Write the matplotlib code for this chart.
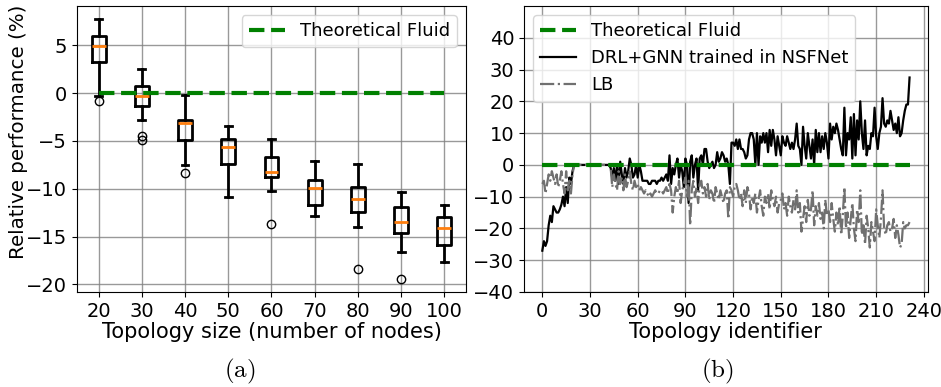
import matplotlib
matplotlib.use("Agg")
import matplotlib.pyplot as plt
import numpy as np

plt.rcParams['mathtext.fontset'] = 'cm'

# ---- Panel (a): box statistics per topology size ----
sizes = [20, 30, 40, 50, 60, 70, 80, 90, 100]
whislo = [-0.28, -2.79, -7.57, -10.82, -10.19, -12.88, -13.96, -16.61, -17.66]
q1 = [3.28, -1.33, -4.96, -7.43, -8.80, -11.66, -12.39, -14.59, -15.88]
med = [4.89, -0.35, -3.18, -5.69, -8.24, -9.95, -11.06, -13.51, -14.10]
q3 = [6.00, 0.77, -2.86, -4.82, -6.70, -9.07, -9.81, -11.94, -12.98]
whishi = [7.71, 2.55, -0.24, -3.49, -4.82, -7.12, -7.40, -10.37, -11.66]
fliers = [[-0.80], [-4.54, -4.96], [-8.38], [], [-13.65], [], [-18.39], [-19.44], []]

# ---- Panel (b): per-topology relative performance ----
drl = [
    -27, -24, -25.5, -24, -19, -16, -18, -13, -14, -15,
    -15, -14, -12.5, -10, -13, -7, -12, -4, -6, -2,
    0, 0, 0, 0, 0, 0, 0, 0, 0, 0,
    0, 0, 0, 0, 0, 0, 0, 0, 0, 0,
    0, 0, 0, -1, -4, -1, -5, 0, -6, 1,
    -3, -6, -1, -4, -2, 2, 0, -4, -3, 0,
    -4, 0, -2, -5, -5, -5, -5, -6, -6, -5,
    -5, -5, -6, -5, -5, -4, -5, -4, -3, -5,
    3, -6, -1, -3, 0, 2, -4, 0, -2, -7,
    2, 0, -12, 1, 3, -4, 0, 2, -8, 2,
    3, 0, 5, 5, 1, -1, 0, 1, -1, 0,
    4, 1, 2, 4, 3, 1, 2, 0, -6, 7,
    7, 6, 8, 5, 8, 5, 5, 4, 2, 3,
    8, 10, 10, 8, 0, 10, 0, 9, 7, 10,
    7, 10, 4, 11, 6, 11, 8, 3, 9, 6,
    3, 9, 7, 6, 9, 7, 5, 7, 5, 8,
    13, 6, 5, 0, 12, 6, 2, 10, 6, 2,
    8, 0, 11, 4, 10, 4, 9, 5, 10, 7,
    2, 13, 8, 12, 10, 13, 11, 8, 5, 3,
    18, 3, 10, 8, 15, 2, 16, 3, 14, 8,
    20, 10, 5, 14, 3, 6, 5, 10, 9, 18,
    9, 5, 10, 12, 21, 13, 12, 14, 13, 17,
    14, 11, 13, 10, 15, 9, 10, 14, 17, 19,
    19, 27.5,
]
lb = [
    -6, -5, -9, -6, -3, -5, -2, -4, -6, -3,
    -7, -5, -2, -6, -9, -2, -8, -5, -9, -3,
    0, 0, 0, 0, 0, 0, 0, 0, 0, 0,
    0, 0, 0, 0, 0, 0, 0, 0, 0, 0,
    0, 0, 0, -1, -7, -3, -6, -8, -2, -6,
    -4, -8, -3, -7, -5, -2, -6, -8, -5, -7,
    -6, -8, -7, -8, -9, -8, -9, -10, -9, -10,
    -9, -8, -9, -9, -8, -8, -9, -8, -7, -9,
    -6, -8, -15, -10, -7, -9, -5, -12, -8, -6,
    -4, -10, -5, -19, -8, -5, -10, -7, -12, -6,
    -5, -9, -7, -10, -6, -11, -8, -9, -12, -7,
    -9, -11, -8, -10, -12, -9, -8, -17, -7, -8,
    -10, -7, -6, -8, -11, -9, -13, -8, -12, -7,
    -9, -14, -10, -12, -9, -15, -11, -8, -13, -16,
    -10, -12, -9, -14, -8, -11, -13, -10, -15, -12,
    -11, -9, -14, -12, -16, -10, -13, -15, -11, -14,
    -8, -15, -12, -21, -17, -13, -18, -11, -16, -14,
    -8, -19, -13, -16, -12, -17, -15, -20, -11, -16,
    -14, -18, -12, -17, -21, -15, -19, -13, -22, -16,
    -7, -20, -15, -23, -17, -12, -20, -24, -14, -18,
    -8, -22, -19, -25, -16, -20, -26, -18, -21, -24,
    -14, -19, -23, -17, -8, -20, -22, -19, -18, -21,
    -20, -17, -23, -19, -22, -26, -25, -18, -20, -19,
    -19, -18,
]

fig = plt.figure(figsize=(9.41, 3.87), dpi=100)
ax1 = fig.add_axes([0.0818, 0.2455, 0.4134, 0.739])
ax2 = fig.add_axes([0.5568, 0.2455, 0.4293, 0.739])

TICK = 14
LAB = 15
LEG = 13
green = '#008000'

# Panel (a)
stats = []
for i in range(len(sizes)):
    stats.append(dict(whislo=whislo[i], q1=q1[i], med=med[i], q3=q3[i],
                      whishi=whishi[i], fliers=fliers[i]))
ax1.bxp(stats, positions=sizes, widths=3.2,
        boxprops=dict(linewidth=2, color='black'),
        whiskerprops=dict(linewidth=2, color='black'),
        capprops=dict(linewidth=2, color='black'),
        medianprops=dict(linewidth=2, color='#ff7f0e'),
        flierprops=dict(marker='o', markerfacecolor='none',
                        markeredgecolor='black', markersize=6))
ax1.plot(sizes, [0] * len(sizes), color=green, linestyle='--', linewidth=3,
         label='Theoretical Fluid', zorder=3)
ax1.set_xlim(15, 105)
ax1.set_ylim(-20.8, 9.1)
ax1.set_xticks(sizes)
ax1.set_xticklabels([str(s) for s in sizes])
ax1.set_yticks([-20, -15, -10, -5, 0, 5])
ax1.grid(True, color='gray', linewidth=1, alpha=0.8)
ax1.set_axisbelow(True)
ax1.tick_params(labelsize=TICK)
ax1.set_xlabel('Topology size (number of nodes)', fontsize=LAB, labelpad=1)
ax1.set_ylabel('Relative performance (%)', fontsize=14.3)
ax1.yaxis.set_label_coords(-0.126, 0.56)
ax1.legend(loc='upper right', fontsize=LEG)

# Panel (b)
x = np.arange(len(drl))
ax2.plot(x, np.zeros(len(drl)), color=green, linestyle='--', linewidth=3,
         label='Theoretical Fluid', zorder=3)
ax2.plot(x, drl, color='black', linewidth=1.6, label='DRL+GNN trained in NSFNet')
ax2.plot(x, lb, color='#707070', linewidth=1.6, linestyle='-.', label='LB')
ax2.set_ylim(-40, 50)
ax2.set_yticks(np.arange(-40, 41, 10))
ax2.set_xticks(np.arange(0, 241, 30))
ax2.grid(True, color='gray', linewidth=1, alpha=0.8)
ax2.set_axisbelow(True)
ax2.tick_params(labelsize=TICK)
ax2.set_xlabel('Topology identifier', fontsize=LAB, labelpad=1)
ax2.legend(loc='upper left', fontsize=LEG)

fig.text(0.255, 0.04, r'$\mathrm{(a)}$', ha='center', va='center', fontsize=18)
fig.text(0.762, 0.04, r'$\mathrm{(b)}$', ha='center', va='center', fontsize=18)

fig.savefig('out.png', dpi=100)
